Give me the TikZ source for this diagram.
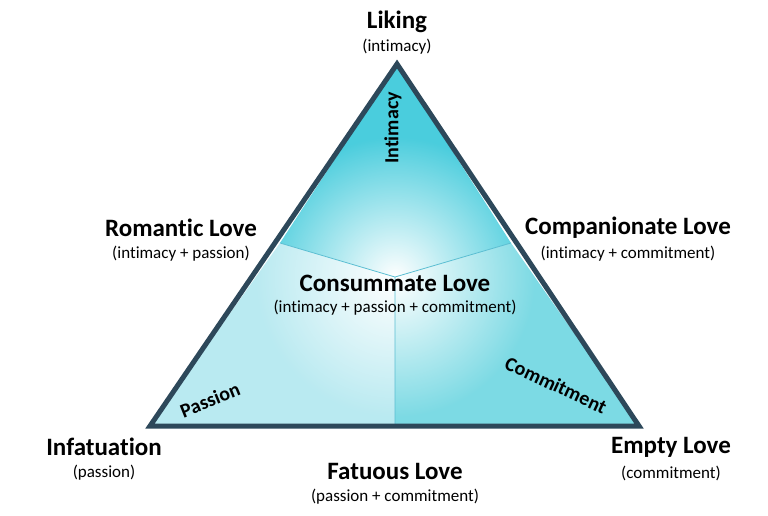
\documentclass[tikz,border=0pt]{standalone}
\usepackage{fontspec}
\setmainfont{Carlito}[Ligatures=NoCommon]
\usetikzlibrary{fadings}
\tikzfading[name=glowfade, inner color=transparent!0, outer color=transparent!100]
\definecolor{ctop}{RGB}{74,205,221}
\definecolor{cleft}{RGB}{185,234,241}
\definecolor{cright}{RGB}{124,218,228}
\definecolor{cdiv}{RGB}{90,190,210}
\definecolor{cedge}{RGB}{45,72,90}
\begin{document}
\begin{tikzpicture}[x=1pt,y=-1pt,
  ttl/.style={font=\bfseries\fontsize{25}{28}\selectfont,inner sep=0},
  sub/.style={font=\fontsize{17}{20}\selectfont,inner sep=0},
  side/.style={font=\bfseries\fontsize{20}{23}\selectfont,inner sep=0}]
\useasboundingbox (0,0) rectangle (768,516);
\coordinate (T) at (397,64);
\coordinate (L) at (150,426);
\coordinate (R) at (639,426);
\coordinate (C) at (395,277);
\coordinate (EL) at (280,243);
\coordinate (ER) at (511,243);
\coordinate (EB) at (395,426);
\fill[ctop] (T) -- (ER) -- (C) -- (EL) -- cycle;
\fill[cleft] (EL) -- (C) -- (EB) -- (L) -- cycle;
\fill[cright] (ER) -- (C) -- (EB) -- (R) -- cycle;
\begin{scope}
\clip (T) -- (R) -- (L) -- cycle;
\fill[white,path fading=glowfade] (C) circle (140);
\end{scope}
\draw[cdiv,line width=0.8] (EL) -- (C) -- (ER) (C) -- (EB);
\draw[line width=5,line join=miter,cedge] (T) -- (R) -- (L) -- cycle;
\node[ttl] (liking) at (397,22) {Liking};
\node[sub] (liking2) at (397,47) {(intimacy)};
\node[ttl] (rom) at (181,228) {Romantic Love};
\node[sub] (rom2) at (181,254) {(intimacy + passion)};
\node[ttl] (comp) at (628,228) {Companionate Love};
\node[sub] (comp2) at (628,254) {(intimacy + commitment)};
\node[ttl] (cons) at (395,283) {Consummate Love};
\node[sub] (cons2) at (395,308) {(intimacy + passion + commitment)};
\node[ttl] (inf) at (104,447) {Infatuation};
\node[sub] (inf2) at (104,473) {(passion)};
\node[ttl] (emp) at (671,447) {Empty Love};
\node[sub] (emp2) at (671,473) {(commitment)};
\node[ttl] (fat) at (395,471) {Fatuous Love};
\node[sub] (fat2) at (395,497) {(passion + commitment)};
\node[side,rotate=90] (int) at (393,128) {Intimacy};
\node[side,rotate=22] (pas) at (210,400) {Passion};
\node[side,rotate=-25] (com) at (556,385) {Commitment};
\end{tikzpicture}
\end{document}
